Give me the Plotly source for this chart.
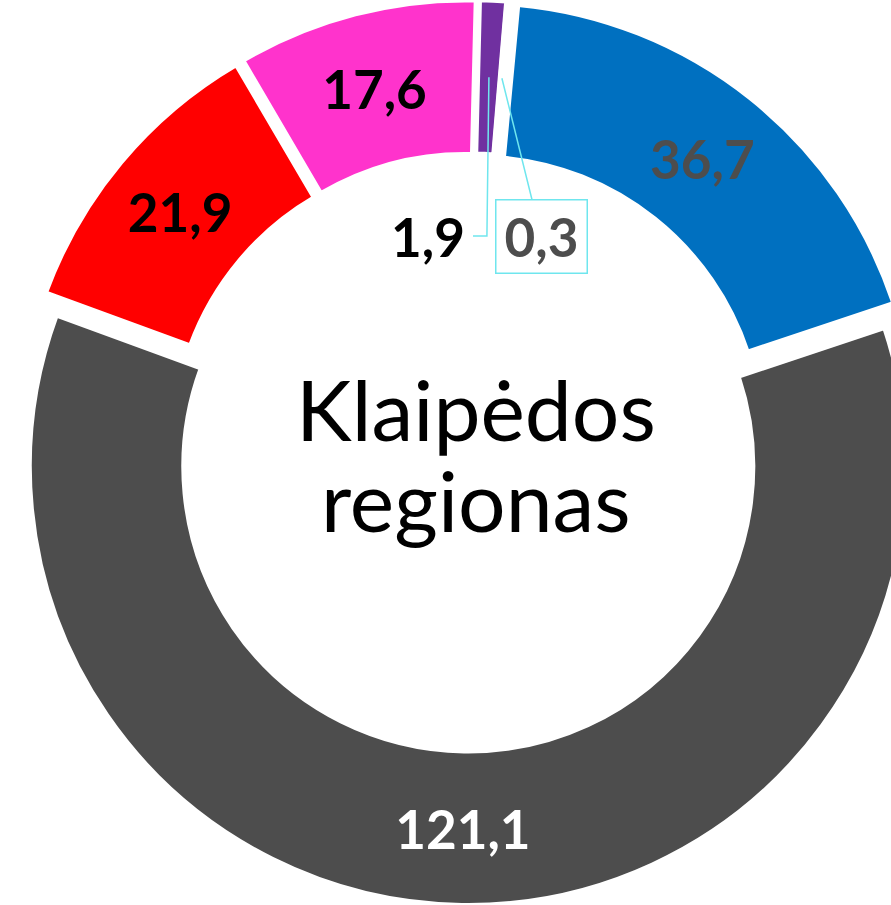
import math
import plotly.graph_objects as go

# slices, clockwise from the top
categories = ["F", "E", "A", "B", "C", "D"]
values = [1.9, 0.3, 36.7, 121.1, 21.9, 17.6]
slice_colors = ["#7030A0", "#FFFFFF", "#0070C0", "#4D4D4D", "#FF0000", "#FF33CC"]
label_colors = ["#000000", "#4D4D4D", "#4D4D4D", "#FFFFFF", "#000000", "#000000"]
center_lines = ["Klaipėdos", "regionas"]

W, H = 937, 905
PULL = 0.032
HOLE = 0.65
ROTATION = 1.4
FONT = "Lato"
LEADER = "#6FE6EE"
LABEL_SIZE = 53


def fmt(v):
    return f"{v:.1f}".replace(".", ",")


inside_text = [fmt(v) if v >= 5 else "" for v in values]

fig = go.Figure(go.Pie(
    labels=categories,
    values=values,
    hole=HOLE,
    sort=False,
    direction="clockwise",
    rotation=ROTATION,
    pull=PULL,
    marker=dict(colors=slice_colors, line=dict(color="white", width=4)),
    text=inside_text,
    textinfo="text",
    textposition="inside",
    insidetextorientation="horizontal",
    textfont=dict(family=FONT, size=LABEL_SIZE, color=label_colors, weight="bold"),
    hoverinfo="label+value",
    showlegend=False,
))

# pie geometry (same as plotly computes it) for the small outside labels
radius = (H / 2) / (1 + PULL)
cx, cy = W / 2, H / 2
total = sum(values)


def ring_point(i):
    start = sum(values[:i])
    ang = math.radians(ROTATION + (start + values[i] / 2) / total * 360)
    rr = radius * (1 + HOLE) / 2 + radius * PULL
    return cx + rr * math.sin(ang), cy - rr * math.cos(ang)


def paper(px, py):
    return px / W, 1 - py / H


small = [i for i, v in enumerate(values) if v < 5]
label_pos = {small[0]: (428, 236), small[1]: (541, 236)}

annotations = []
shapes = []

# 1,9 label with elbow leader
i = small[0]
lx, ly = label_pos[i]
ex, ey = ring_point(i)
x0, y0 = paper(lx + 45, ly)
x1, y1 = paper(ex - 2, ly)
x2, y2 = paper(ex, ey)
shapes.append(dict(type="path", xref="paper", yref="paper",
                   path=f"M {x0},{y0} L {x1},{y1} L {x2},{y2}",
                   line=dict(color=LEADER, width=1.5)))
ax, ay = paper(lx, ly)
annotations.append(dict(x=ax, y=ay, xref="paper", yref="paper", text=fmt(values[i]),
                        xanchor="center", yanchor="middle", showarrow=False,
                        font=dict(family=FONT, size=LABEL_SIZE,
                                  color=label_colors[i], weight="bold")))

# 0,3 label in a box with straight leader
i = small[1]
lx, ly = label_pos[i]
ex, ey = ring_point(i)
px_, py_ = paper(ex, ey)
annotations.append(dict(x=px_, y=py_, xref="paper", yref="paper", text=fmt(values[i]),
                        showarrow=True, arrowhead=0, arrowwidth=1.5, arrowcolor=LEADER,
                        ax=lx - ex, ay=ly - ey, standoff=0,
                        bordercolor=LEADER, borderwidth=1.5, borderpad=2, width=86, height=68,
                        font=dict(family=FONT, size=LABEL_SIZE, color=label_colors[i], weight="bold")))

# centre text
for line, yc in zip(center_lines, [409, 499]):
    tx, ty = paper(476, yc)
    annotations.append(dict(x=tx, y=ty, xref="paper", yref="paper", text=line, showarrow=False,
                            xanchor="center", yanchor="middle",
                            font=dict(family=FONT, size=84, color="#000000")))

fig.update_layout(
    width=W, height=H,
    margin=dict(l=0, r=0, t=0, b=0),
    paper_bgcolor="white",
    plot_bgcolor="white",
    annotations=annotations,
    shapes=shapes,
)

fig.write_html("out.html", config={"displayModeBar": False}, post_script=(
    "document.body.style.margin='0';"
    "document.body.style.overflow='hidden';"
    "document.documentElement.style.overflow='hidden';"
))
